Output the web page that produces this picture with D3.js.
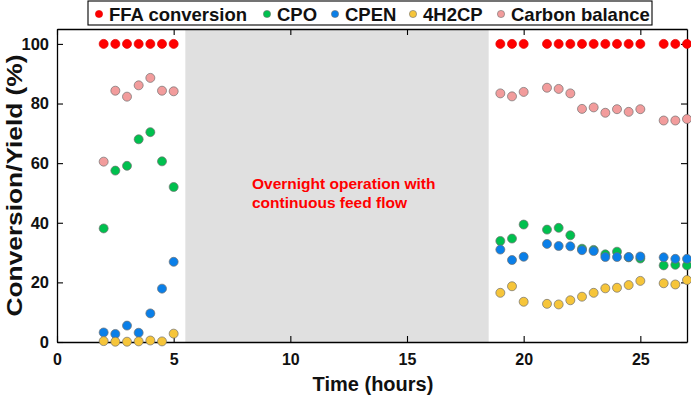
<!DOCTYPE html>
<html>
<head>
<meta charset="utf-8">
<script src="https://cdn.jsdelivr.net/npm/d3@7"></script>
<style>
  body { margin: 0; background: #fff; }
  text { font-family: "Liberation Sans", Arial, sans-serif; font-weight: bold; }
</style>
</head>
<body>
<script>
// sampling times (hours)
var timesA = [2, 2.5, 3, 3.5, 4, 4.5, 5];
var timesB = [19, 19.5, 20, 21, 21.5, 22, 22.5, 23, 23.5, 24, 24.5, 25, 26, 26.5, 27];

// values (%)
var ffaA = [100, 100, 100, 100, 100, 100, 100];
var ffaB = [100, 100, 100, 100, 100, 100, 100, 100, 100, 100, 100, 100, 100, 100, 100];
var cpoA = [38.1, 57.5, 59.1, 68.0, 70.4, 60.6, 52.0];
var cpoB = [33.9, 34.7, 39.4, 37.7, 38.3, 35.8, 31.3, 30.9, 29.4, 30.3, 28.4, 28.0, 25.7, 25.9, 25.7];
var cpenA = [3.2, 2.7, 5.5, 3.1, 9.6, 17.9, 26.9];
var cpenB = [31.0, 27.5, 28.6, 32.9, 32.2, 32.1, 30.8, 30.5, 28.5, 28.5, 28.5, 28.7, 28.4, 27.9, 27.9];
var h2cpA = [0.3, 0.1, 0.1, 0.2, 0.5, 0.2, 2.8];
var h2cpB = [16.5, 18.7, 13.5, 12.8, 12.6, 14.0, 15.2, 16.5, 18.0, 18.2, 19.1, 20.5, 19.7, 19.3, 20.8];
var carbonA = [60.5, 84.3, 82.3, 86.1, 88.6, 84.3, 84.1];
var carbonB = [83.4, 82.4, 83.9, 85.3, 84.9, 83.4, 78.2, 78.7, 76.9, 78.1, 77.2, 78.1, 74.3, 74.3, 74.8];

var seriesNames = ["FFA conversion", "CPO", "CPEN", "4H2CP", "Carbon balance"];
var seriesColors = ["#ff0000", "#00c04e", "#0a7fe8", "#f6c53a", "#f29c9c"];

var xTicks = [0, 5, 10, 15, 20, 25];
var yTicks = [0, 20, 40, 60, 80, 100];
var overnight = [5.5, 18.5];
var noteLines = ["Overnight operation with", "continuous feed flow"];

const W = 691, H = 396;
const margin = {top: 29, right: 4, bottom: 54, left: 57};

var svg = d3.select("body").append("svg")
  .attr("width", W)
  .attr("height", H);

var x = d3.scaleLinear().domain([0, 27]).range([margin.left, W - margin.right]);
var y = d3.scaleLinear().domain([0, 105]).range([H - margin.bottom, margin.top]);

// grey band for the overnight period
svg.append("rect")
  .attr("x", x(overnight[0]))
  .attr("y", y(105))
  .attr("width", x(overnight[1]) - x(overnight[0]))
  .attr("height", y(0) - y(105))
  .attr("fill", "#e0e0e0");

svg.selectAll(".note")
  .data(noteLines)
  .enter().append("text")
  .attr("class", "note")
  .attr("x", 252)
  .attr("y", (d, i) => 189 + i * 19)
  .attr("fill", "#ff0000")
  .attr("font-size", 15.5)
  .text(d => d);

// axes (ticks pointing in)
var xAxis = svg.append("g")
  .attr("transform", "translate(0," + y(0) + ")")
  .call(d3.axisBottom(x).tickValues(xTicks).tickSizeInner(-6).tickSizeOuter(0).tickPadding(12));
var yAxis = svg.append("g")
  .attr("transform", "translate(" + x(0) + ",0)")
  .call(d3.axisLeft(y).tickValues(yTicks).tickSizeInner(-6).tickSizeOuter(0).tickPadding(8));
svg.append("g")
  .attr("transform", "translate(0," + y(105) + ")")
  .call(d3.axisTop(x).tickValues(xTicks).tickSizeInner(-6).tickSizeOuter(0).tickFormat(""));
svg.append("g")
  .attr("transform", "translate(" + x(27) + ",0)")
  .call(d3.axisRight(y).tickValues(yTicks).tickSizeInner(-6).tickSizeOuter(0).tickFormat(""));

svg.selectAll(".domain").attr("stroke", "#000").attr("stroke-width", 1.3);
svg.selectAll(".tick line").attr("stroke", "#000").attr("stroke-width", 1.1);
xAxis.selectAll("text").attr("font-size", 16).attr("fill", "#111");
yAxis.selectAll("text").attr("font-size", 16.5).attr("fill", "#111");

// axis titles
svg.append("text")
  .attr("x", (x(0) + x(27)) / 2 + 1)
  .attr("y", 391)
  .attr("text-anchor", "middle")
  .attr("font-size", 20)
  .attr("fill", "#111")
  .text("Time (hours)");
var yTitle = svg.append("text")
  .attr("text-anchor", "middle")
  .attr("font-size", 22)
  .attr("fill", "#111")
  .text("Conversion/Yield (%)");
// the source figure is stretched vertically, so stretch the rotated title to fit
var yLen = yTitle.node().getComputedTextLength();
yTitle.attr("transform", "translate(22," + y(52.5) + ") rotate(-90) scale(" + (262 / yLen) + ",1)");

// points
var series = [
  {name: seriesNames[0], a: ffaA, b: ffaB},
  {name: seriesNames[1], a: cpoA, b: cpoB},
  {name: seriesNames[2], a: cpenA, b: cpenB},
  {name: seriesNames[3], a: h2cpA, b: h2cpB},
  {name: seriesNames[4], a: carbonA, b: carbonB}
];

series.forEach(function(s, k) {
  var pts = timesA.map((t, i) => [t, s.a[i]]).concat(timesB.map((t, i) => [t, s.b[i]]));
  svg.append("g").selectAll("circle")
    .data(pts)
    .enter().append("circle")
    .attr("cx", d => x(d[0]))
    .attr("cy", d => y(d[1]))
    .attr("r", 4.5)
    .attr("fill", seriesColors[k])
    .attr("stroke", k === 0 ? "#e00000" : "#707070")
    .attr("stroke-width", 0.7);
});

// legend
var legend = svg.append("g");
legend.append("rect")
  .attr("x", 88).attr("y", 1)
  .attr("width", 564).attr("height", 24)
  .attr("fill", "#fff").attr("stroke", "#000").attr("stroke-width", 1.1);

var legendX = [99, 267, 335, 413, 501];
var items = legend.selectAll(".item")
  .data(seriesNames)
  .enter().append("g")
  .attr("transform", (d, i) => "translate(" + legendX[i] + ",14)");
items.append("circle")
  .attr("r", 3.6)
  .attr("fill", (d, i) => seriesColors[i])
  .attr("stroke", (d, i) => i === 0 ? "#e00000" : "#707070")
  .attr("stroke-width", 0.6);
items.append("text")
  .attr("x", 10)
  .attr("y", 7)
  .attr("font-size", 18.5)
  .attr("fill", "#111")
  .text(d => d);
</script>
</body>
</html>
